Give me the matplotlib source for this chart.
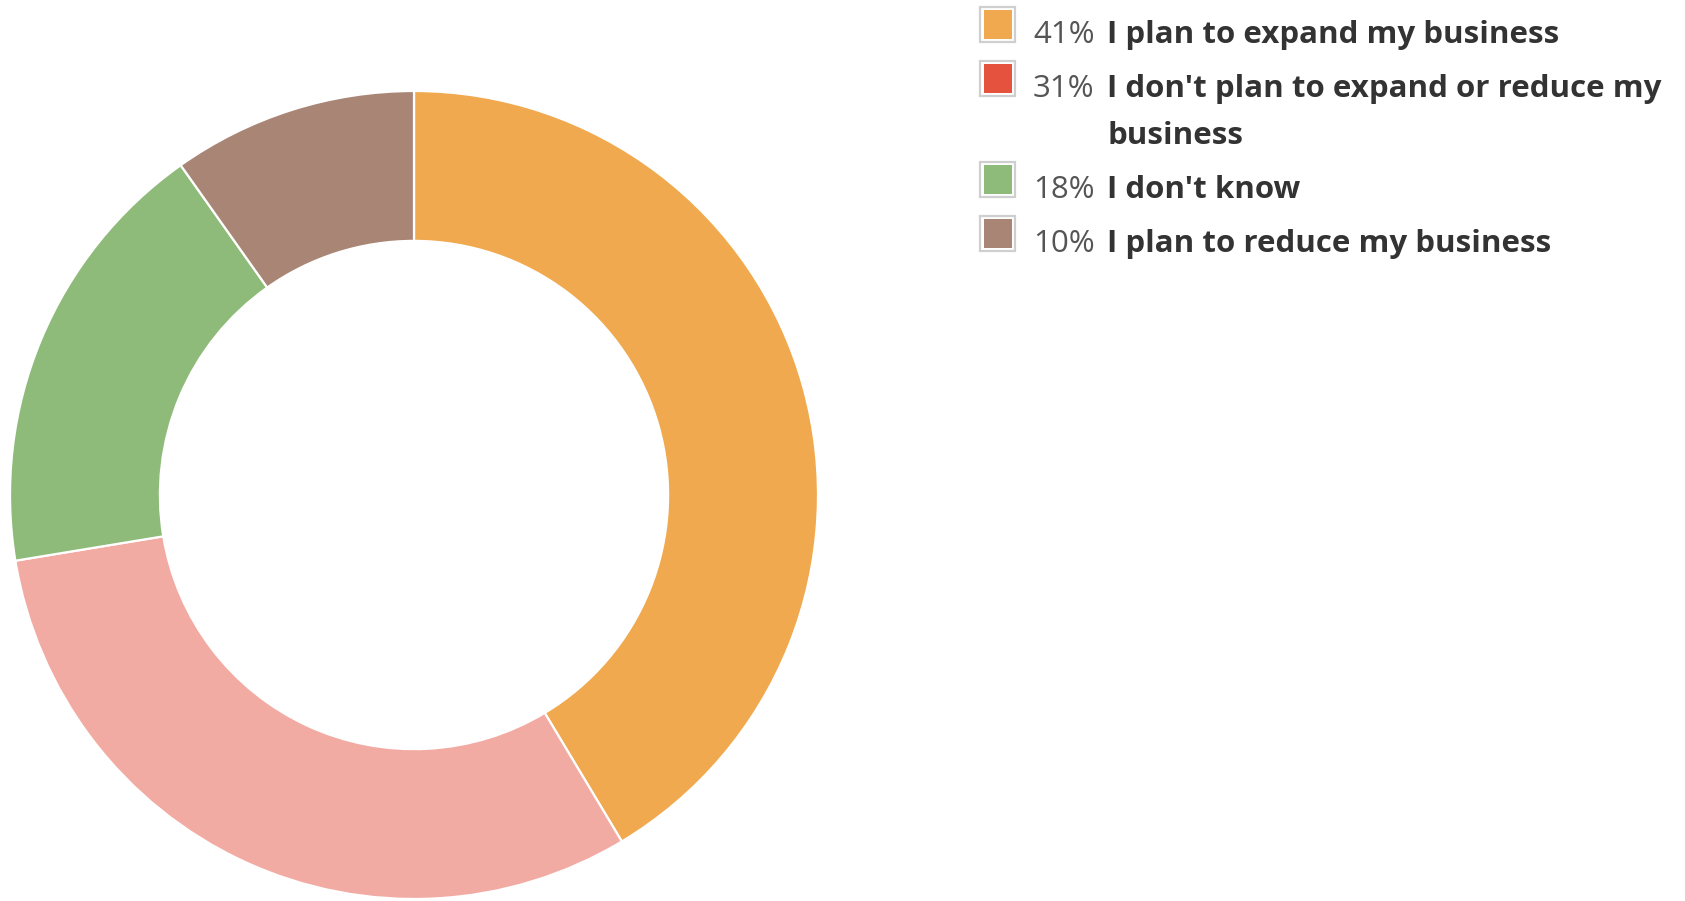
import matplotlib.pyplot as plt
from matplotlib.patches import Rectangle

# --- data ---
labels = ["I plan to expand my business",
          "I don't plan to expand or reduce my\nbusiness",
          "I don't know",
          "I plan to reduce my business"]
shares = [41.4, 31.0, 17.8, 9.8]
pie_colors = ['#F0A94E', '#F2ABA3', '#8FBB7A', '#A98576']
legend_colors = ['#F0A94E', '#E5533F', '#8FBB7A', '#A98576']

plt.rcParams['font.family'] = ['Open Sans', 'DejaVu Sans']

W, H = 1685, 901
fig = plt.figure(figsize=(W / 100, H / 100), dpi=100)

# donut
cx, cy, r = 414, 495, 404
ax = fig.add_axes([(cx - r) / W, (H - cy - r) / H, 2 * r / W, 2 * r / H])
ax.pie(shares, colors=pie_colors, startangle=90, counterclock=False,
       radius=1.0, wedgeprops=dict(width=0.371, edgecolor='white', linewidth=1.6))
ax.set_xlim(-1, 1)
ax.set_ylim(-1, 1)
ax.set_aspect('equal')
ax.axis('off')

# legend drawn by hand (pixel positions, top-down)
baselines = [43, 97, 198, 252]
fs = 22.5
for lab, val, col, yb in zip(labels, shares, legend_colors, baselines):
    sq = yb - 18.5  # square centre
    fig.patches.append(Rectangle((980 / W, 1 - (sq + 17.5) / H), 35 / W, 35 / H,
                                 transform=fig.transFigure, facecolor='white',
                                 edgecolor='#CFCFCF', linewidth=1.6))
    fig.patches.append(Rectangle((983.5 / W, 1 - (sq + 14) / H), 28 / W, 28 / H,
                                 transform=fig.transFigure, facecolor=col,
                                 edgecolor='none'))
    fig.text(1033 / W, 1 - yb / H, f"{round(val)}%", fontsize=fs, color='#555555',
             va='baseline', ha='left')
    lines = lab.split('\n')
    fig.text(1107 / W, 1 - yb / H, lines[0], fontsize=fs, color='#333333',
             fontweight='bold', va='baseline', ha='left')
    if len(lines) > 1:
        fig.text(1107 / W, 1 - (yb + 47) / H, lines[1], fontsize=fs,
                 color='#333333', fontweight='bold', va='baseline', ha='left')

fig.savefig('out.png', dpi=100, facecolor='white')
